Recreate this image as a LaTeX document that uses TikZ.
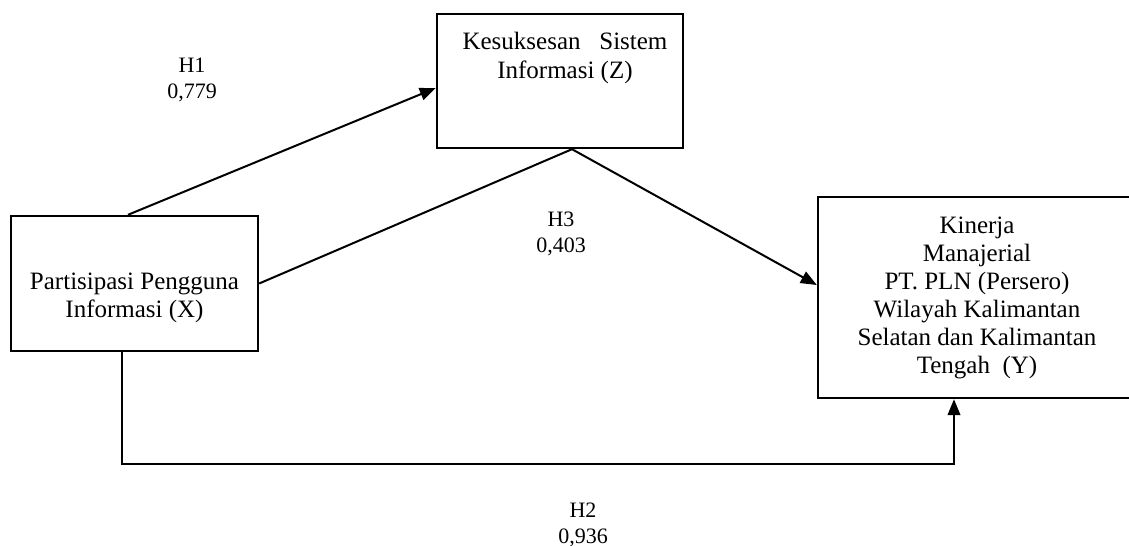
\documentclass[tikz,border=0pt]{standalone}
\usepackage{fontspec}
\setmainfont{Liberation Serif}
\usetikzlibrary{arrows.meta}
\begin{document}
\begin{tikzpicture}[x=0.75pt,y=-0.75pt,
  box/.style={draw,line width=1.8pt,inner sep=0pt},
  boxtext/.style={align=center,font=\fontsize{18.75}{21}\selectfont,inner sep=0pt,anchor=base},
  hyp/.style={align=center,font=\fontsize{16.5}{19.5}\selectfont,inner sep=0pt,anchor=base},
  link/.style={line width=1.5pt},
  arrow/.style={link,-{Triangle[length=12pt,width=9.5pt]}}]
\clip (0,0) rectangle (1129,546);

% the three constructs
\node[box,minimum width=185.25pt,minimum height=101.25pt] (X) at (134.5,283.5) {};
\node[box,minimum width=184.5pt,minimum height=100.5pt] (Z) at (560,81) {};
\node[box,minimum width=238.5pt,minimum height=150.75pt] (Y) at (977,297.5) {};

% box texts, placed by the baseline of their last line
\node[boxtext] (xtext) at (134.5,317) {Partisipasi Pengguna\\Informasi (X)};
\node[boxtext] (ztext) at (565,78) {Kesuksesan\hspace{0.5em} Sistem\\Informasi (Z)};
\node[boxtext] (ytext) at (977,373) {Kinerja\\Manajerial\\PT. PLN (Persero)\\Wilayah Kalimantan\\Selatan dan Kalimantan\\Tengah~ (Y)};

% paths between the constructs
\coordinate (apex) at ([xshift=9pt]Z.south);
\draw[arrow] ([xshift=-4.875pt]X.north) -- ([yshift=-5.25pt]Z.west);
\draw[arrow] (X.east) -- (apex) -- ([yshift=9.375pt]Y.west);
\draw[arrow] ([xshift=-9.375pt]X.south) -- ++(0,112) -| ([xshift=-17.25pt]Y.south);

% hypothesis labels
\node[hyp] (h1) at (192,98) {H1\\0,779};
\node[hyp] (h3) at (561,252) {H3\\0,403};
\node[hyp] (h2) at (583,543) {H2\\0,936};
\end{tikzpicture}
\end{document}
